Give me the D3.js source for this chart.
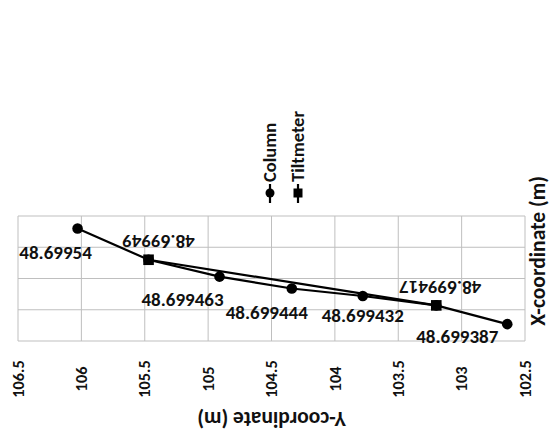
<!DOCTYPE html>
<html>
<head>
<meta charset="utf-8">
<script src="https://cdn.jsdelivr.net/npm/d3@7"></script>
<style>
    body { margin: 0; background: #fff; }
    text { font-family: Carlito, Calibri, "Open Sans", sans-serif; font-weight: bold; fill: #111; }
</style>
</head>
<body>
<div id="chart"></div>
<script>
// Y-coordinate (horizontal, reversed) and X-coordinate (vertical) values
const yTicks = [106.5, 106, 105.5, 105, 104.5, 104, 103.5, 103, 102.5]
const xTicks = [48.69936, 48.69941, 48.69946, 48.69951, 48.69956]

const columnY = [106.03, 105.47, 104.91, 104.34, 103.78, 103.20, 102.64]
const columnX = [48.69954, 48.69949, 48.699463, 48.699444, 48.699432, 48.699417, 48.699387]

const tiltY = [105.47, 103.20]
const tiltX = [48.69949, 48.699417]

// per-label nudges for the Column labels (Excel placed them by hand)
const columnNudge = [[-22, 30], null, [-37, 29], [-25, 30], [0, 26], null, [-50, 19]]

const width = 552, height = 437
const plot = { left: 18, right: 525, top: 216, bottom: 341 }

const svg = d3.select("#chart")
    .append("svg")
    .attr("width", width)
    .attr("height", height)

const h = d3.scaleLinear()
    .domain([yTicks[0], yTicks[yTicks.length - 1]])
    .range([plot.left, plot.right])

const v = d3.scaleLinear()
    .domain([xTicks[0], xTicks[xTicks.length - 1]])
    .range([plot.bottom, plot.top])

// grid
svg.append("g")
    .selectAll("line")
    .data(yTicks)
    .join("line")
    .attr("x1", d => h(d)).attr("x2", d => h(d))
    .attr("y1", plot.top).attr("y2", plot.bottom)
    .attr("stroke", "#bfbfbf")
    .attr("stroke-width", 1)

svg.append("g")
    .selectAll("line")
    .data(xTicks)
    .join("line")
    .attr("x1", plot.left).attr("x2", plot.right)
    .attr("y1", d => v(d)).attr("y2", d => v(d))
    .attr("stroke", "#bfbfbf")
    .attr("stroke-width", 1)

// tick labels, rotated
svg.append("g")
    .selectAll("text")
    .data(yTicks)
    .join("text")
    .attr("transform", d => `translate(${h(d)}, 379) rotate(-90)`)
    .attr("text-anchor", "middle")
    .attr("dy", "0.35em")
    .style("font-size", "16.3px")
    .text(d => d)

const line = d3.line()
    .x(d => h(d[0]))
    .y(d => v(d[1]))

const columnPts = columnY.map((y, i) => [y, columnX[i]])
const tiltPts = tiltY.map((y, i) => [y, tiltX[i]])

svg.append("path")
    .datum(columnPts)
    .attr("d", line)
    .attr("fill", "none")
    .attr("stroke", "#000")
    .attr("stroke-width", 2.2)

svg.append("path")
    .datum(tiltPts)
    .attr("d", line)
    .attr("fill", "none")
    .attr("stroke", "#000")
    .attr("stroke-width", 2.2)

svg.append("g")
    .selectAll("circle")
    .data(columnPts)
    .join("circle")
    .attr("cx", d => h(d[0]))
    .attr("cy", d => v(d[1]))
    .attr("r", 5.3)
    .attr("fill", "#000")

svg.append("g")
    .selectAll("rect")
    .data(tiltPts)
    .join("rect")
    .attr("x", d => h(d[0]) - 5.3)
    .attr("y", d => v(d[1]) - 5.3)
    .attr("width", 10.6)
    .attr("height", 10.6)
    .attr("fill", "#000")

// data labels
svg.append("g")
    .selectAll("text")
    .data(columnPts.map((d, i) => ({ d, n: columnNudge[i] })).filter(e => e.n))
    .join("text")
    .attr("x", e => h(e.d[0]) + e.n[0])
    .attr("y", e => v(e.d[1]) + e.n[1])
    .attr("text-anchor", "middle")
    .style("font-size", "19px")
    .text(e => e.d[1])

svg.append("g")
    .selectAll("text")
    .data(tiltPts)
    .join("text")
    .attr("transform", (d, i) => `translate(${h(d[0]) + (i === 0 ? 10 : 4)}, ${v(d[1]) - 18}) rotate(180)`)
    .attr("text-anchor", "middle")
    .attr("dy", "0.35em")
    .style("font-size", "19px")
    .text(d => d[1])

// axis titles
svg.append("text")
    .attr("transform", `translate(${(plot.left + plot.right) / 2}, 420) rotate(180)`)
    .attr("text-anchor", "middle")
    .attr("dy", "0.35em")
    .style("font-size", "21.5px")
    .text("Y-coordinate (m)")

svg.append("text")
    .attr("transform", "translate(538, 251) rotate(-90)")
    .attr("text-anchor", "middle")
    .attr("dy", "0.33em")
    .style("font-size", "21.5px")
    .text("X-coordinate (m)")

// legend
const legendItems = [
    { name: "Column", x: 270, shape: "circle" },
    { name: "Tiltmeter", x: 298, shape: "square" }
]

const legend = svg.append("g").attr("class", "legend")

legendItems.forEach(item => {
    legend.append("line")
        .attr("x1", item.x).attr("x2", item.x)
        .attr("y1", 184).attr("y2", 203)
        .attr("stroke", "#000")
        .attr("stroke-width", 2.2)
    if (item.shape === "circle") {
        legend.append("circle")
            .attr("cx", item.x).attr("cy", 193)
            .attr("r", 4.5)
            .attr("fill", "#000")
    } else {
        legend.append("rect")
            .attr("x", item.x - 4.5).attr("y", 188.5)
            .attr("width", 9).attr("height", 9)
            .attr("fill", "#000")
    }
    legend.append("text")
        .attr("transform", `translate(${item.x}, 182) rotate(-90)`)
        .attr("dy", "0.35em")
        .style("font-size", "18.5px")
        .text(item.name)
})
</script>
</body>
</html>
